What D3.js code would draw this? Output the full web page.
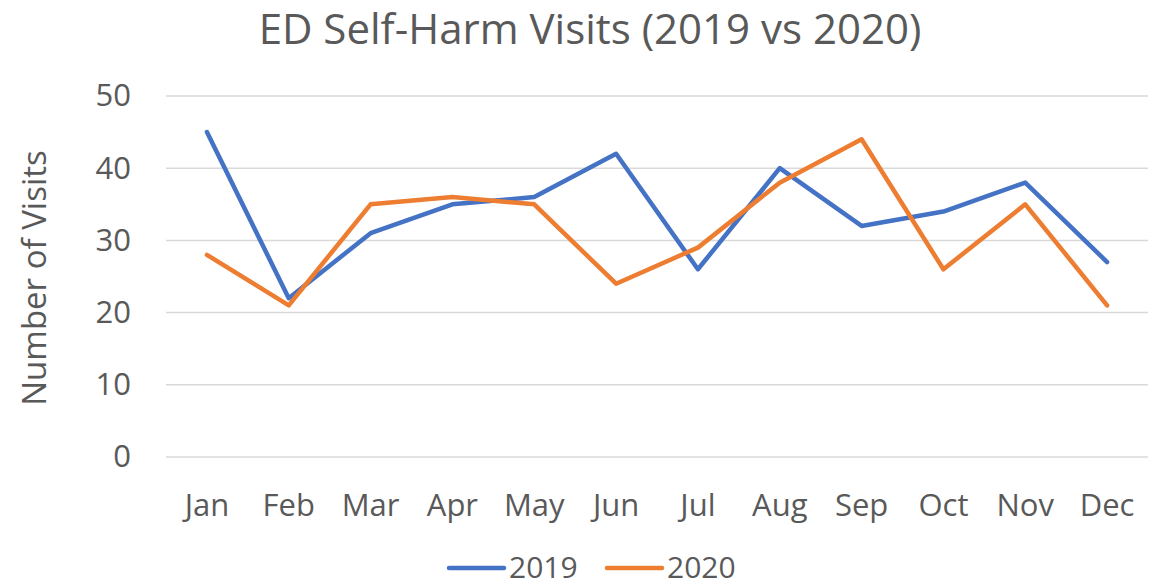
<!DOCTYPE html>
<html>
<head>
<meta charset="utf-8">
<script src="https://cdn.jsdelivr.net/npm/d3@7"></script>
<style>
  body { margin: 0; background: #fff; }
  svg { display: block; font-family: 'Open Sans', sans-serif; }
</style>
</head>
<body>
<svg id="chart"></svg>
<script>
const months = ['Jan', 'Feb', 'Mar', 'Apr', 'May', 'Jun', 'Jul', 'Aug', 'Sep', 'Oct', 'Nov', 'Dec'];
const visits2019 = [45, 22, 31, 35, 36, 42, 26, 40, 32, 34, 38, 27];
const visits2020 = [28, 21, 35, 36, 35, 24, 29, 38, 44, 26, 35, 21];
const yTicks = [0, 10, 20, 30, 40, 50];

const series = [
  { name: '2019', values: visits2019, color: '#4472C4' },
  { name: '2020', values: visits2020, color: '#ED7D31' }
];

const totalW = 1166, totalH = 587;
const margin = { top: 96, right: 18, bottom: 130, left: 166 };
const width = totalW - margin.left - margin.right;
const height = totalH - margin.top - margin.bottom;
const textColor = '#595959';

const svg = d3.select('#chart')
  .attr('width', totalW)
  .attr('height', totalH);

const g = svg.append('g')
  .attr('transform', `translate(${margin.left},${margin.top})`);

const x = d3.scaleBand()
  .domain(months)
  .range([0, width])
  .padding(0);

const y = d3.scaleLinear()
  .domain([0, 50])
  .range([height, 0]);

// gridlines
g.append('g')
  .selectAll('line')
  .data(yTicks)
  .enter()
  .append('line')
  .attr('x1', 0)
  .attr('x2', width)
  .attr('y1', d => y(d))
  .attr('y2', d => y(d))
  .attr('stroke', '#D9D9D9')
  .attr('stroke-width', 1.5);

// y axis labels
const yAxis = g.append('g')
  .call(d3.axisLeft(y).tickValues(yTicks).tickSize(0).tickPadding(35));
yAxis.select('.domain').remove();
yAxis.selectAll('text')
  .style('font-size', '31px')
  .style('font-family', "'Open Sans', sans-serif")
  .attr('fill', textColor);

// x axis labels
const xAxis = g.append('g')
  .attr('transform', `translate(0,${height})`)
  .call(d3.axisBottom(x).tickSize(0).tickPadding(37));
xAxis.select('.domain').remove();
xAxis.selectAll('text')
  .style('font-size', '31px')
  .style('font-family', "'Open Sans', sans-serif")
  .attr('fill', textColor);

// lines
const line = d3.line()
  .x((d, i) => x(months[i]) + x.bandwidth() / 2)
  .y(d => y(d));

g.selectAll('.series')
  .data(series)
  .enter()
  .append('path')
  .attr('class', 'series')
  .attr('fill', 'none')
  .attr('stroke', d => d.color)
  .attr('stroke-width', 4.5)
  .attr('stroke-linejoin', 'round')
  .attr('stroke-linecap', 'round')
  .attr('d', d => line(d.values));

// title
svg.append('text')
  .attr('x', 590)
  .attr('y', 44)
  .attr('text-anchor', 'middle')
  .attr('fill', textColor)
  .style('font-size', '42px')
  .text('ED Self-Harm Visits (2019 vs 2020)');

// y axis title
svg.append('text')
  .attr('transform', 'translate(46,278) rotate(-90)')
  .attr('text-anchor', 'middle')
  .attr('fill', textColor)
  .style('font-size', '33px')
  .text('Number of Visits');

// legend
const legend = svg.append('g')
  .attr('transform', 'translate(449,568)');
const legendItems = legend.selectAll('g')
  .data(series)
  .enter()
  .append('g')
  .attr('transform', (d, i) => `translate(${i * 158},0)`);
legendItems.append('line')
  .attr('x1', 0)
  .attr('x2', 55)
  .attr('stroke', d => d.color)
  .attr('stroke-width', 4.5)
  .attr('stroke-linecap', 'round');
legendItems.append('text')
  .attr('x', 60)
  .attr('y', 10)
  .attr('fill', textColor)
  .style('font-size', '30px')
  .text(d => d.name);
</script>
</body>
</html>
